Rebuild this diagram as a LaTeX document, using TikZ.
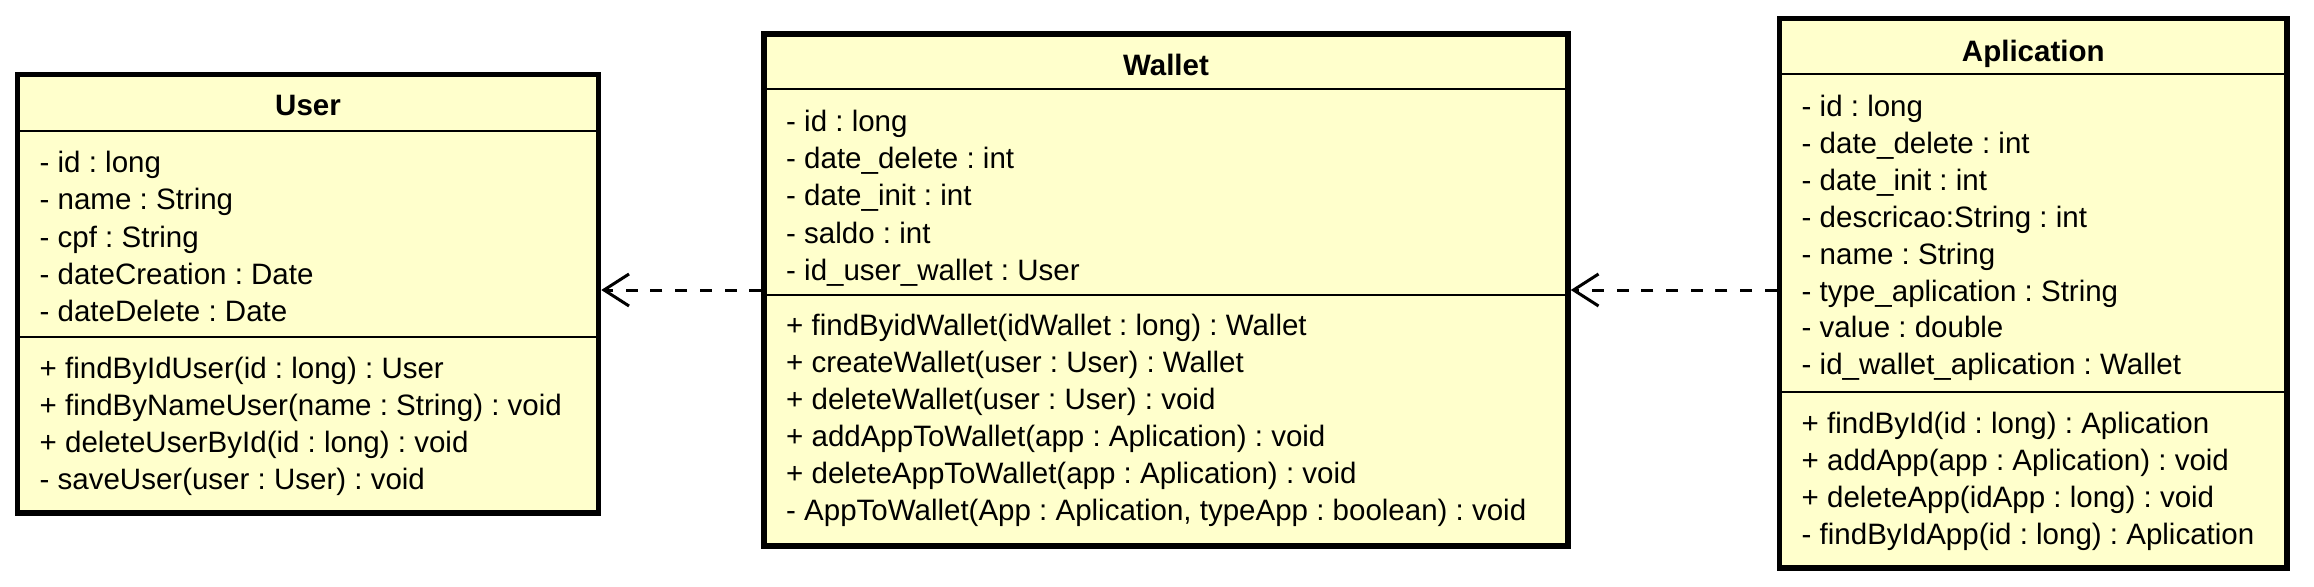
\documentclass[tikz,border=0pt]{standalone}
\usepackage{fontspec}
\setmainfont{Liberation Sans}
\usetikzlibrary{arrows.meta}
\frenchspacing
\definecolor{classfill}{HTML}{FFFFCC}
\tikzset{
  classbox/.style={draw=black, fill=classfill, line width=5.5pt, rectangle, inner sep=0pt},
  sepline/.style={draw=black, line width=2pt},
  txt/.style={anchor=base west, inner sep=0pt, font=\fontsize{29.5}{36}\selectfont\frenchspacing},
  ttl/.style={anchor=base, inner sep=0pt, font=\fontsize{29.5}{36}\selectfont\bfseries},
  dep/.style={draw=black, line width=3pt, dash pattern=on 12pt off 12.7pt,
    -{Straight Barb[length=25pt,width=32pt]}}
}
\begin{document}
\begin{tikzpicture}[x=1pt,y=-1pt]
\useasboundingbox (0,0) rectangle (2314,586);
% boxes
\node[classbox, minimum width=581pt, minimum height=438.5pt] (user) at (308,293.75) {};
\node[classbox, minimum width=804pt, minimum height=512pt] (wallet) at (1166,290) {};
\node[classbox, minimum width=507.5pt, minimum height=549.7pt] (aplication) at (2033.25,293.15) {};
% separators
\draw[sepline] (17.5,130.7) -- (598.5,130.7);
\draw[sepline] (17.5,336.7) -- (598.5,336.7);
\draw[sepline] (764,89) -- (1568,89);
\draw[sepline] (764,294.5) -- (1568,294.5);
\draw[sepline] (1779.5,74) -- (2287,74);
\draw[sepline] (1779.5,391.8) -- (2287,391.8);
% titles
\node[ttl] (usertitle) at (308,115.5) {User};
\node[ttl] (wallettitle) at (1166,75.3) {Wallet};
\node[ttl] (aplicationtitle) at (2033.25,61) {Aplication};
% User
\foreach \t [count=\i] in {{- id : long},{- name : String},{- cpf : String},{- dateCreation : Date},{- dateDelete : Date}}
  \node[txt, name=ua\i] at (39.5,{172.7+37.25*(\i-1)}) {\t};
\foreach \t [count=\i] in {{+ findByIdUser(id : long) : User},{+ findByNameUser(name : String) : void},{+ deleteUserById(id : long) : void},{- saveUser(user : User) : void}}
  \node[txt, name=um\i] at (39.5,{378.3+37*(\i-1)}) {\t};
% Wallet
\foreach \t [count=\i] in {{- id : long},{- date\_delete : int},{- date\_init : int},{- saldo : int},{- id\_user\_wallet : User}}
  \node[txt, name=wa\i] at (786,{131.5+37.2*(\i-1)}) {\t};
\foreach \t [count=\i] in {{+ findByidWallet(idWallet : long) : Wallet},{+ createWallet(user : User) : Wallet},{+ deleteWallet(user : User) : void},{+ addAppToWallet(app : Aplication) : void},{+ deleteAppToWallet(app : Aplication) : void},{- AppToWallet(App : Aplication, typeApp : boolean) : void}}
  \node[txt, name=wm\i] at (786,{335.6+37*(\i-1)}) {\t};
% Aplication
\foreach \t [count=\i] in {{- id : long},{- date\_delete : int},{- date\_init : int},{- descricao:String : int},{- name : String},{- type\_aplication : String},{- value : double},{- id\_wallet\_aplication : Wallet}}
  \node[txt, name=aa\i] at (1801.5,{116.5+36.9*(\i-1)}) {\t};
\foreach \t [count=\i] in {{+ findById(id : long) : Aplication},{+ addApp(app : Aplication) : void},{+ deleteApp(idApp : long) : void},{- findByIdApp(id : long) : Aplication}}
  \node[txt, name=am\i] at (1801.5,{433.4+36.9*(\i-1)}) {\t};
% dependencies
\draw[dep] (wallet.west) -- (wallet.west -| user.east);
\draw[dep] (wallet.east -| aplication.west) -- (wallet.east);
\end{tikzpicture}
\end{document}
